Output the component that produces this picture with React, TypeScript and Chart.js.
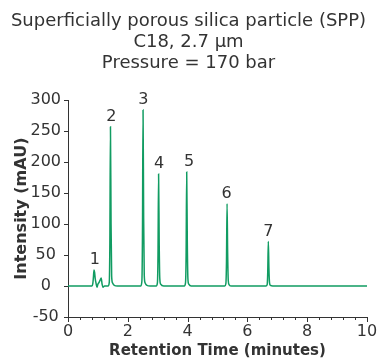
import React, { useEffect, useRef } from "react";
import { Chart, registerables } from "chart.js";

Chart.register(...registerables);

const titleLines = [
  "Superficially porous silica particle (SPP)",
  "C18, 2.7 µm",
  "Pressure = 170 bar",
];

// Chromatogram trace (time in minutes, intensity in mAU)
const timeValues = [
  0, 0.5, 0.8, 0.83, 0.85, 0.87, 0.89, 0.91, 0.94, 0.97, 1.0, 1.04, 1.08, 1.11, 1.14, 1.17, 1.22,
  1.34, 1.38, 1.40, 1.42, 1.44, 1.46, 1.49, 1.55, 1.65,
  2.43, 2.47, 2.49, 2.51, 2.53, 2.55, 2.58, 2.64, 2.75,
  2.95, 2.99, 3.01, 3.03, 3.05, 3.07, 3.1, 3.2,
  3.89, 3.93, 3.95, 3.97, 3.99, 4.01, 4.04, 4.12,
  5.24, 5.28, 5.3, 5.32, 5.34, 5.36, 5.39, 5.47,
  6.62, 6.66, 6.68, 6.7, 6.72, 6.74, 6.77, 6.85,
  10,
];
const intensityValues = [
  0, 0, 0, 4, 14, 26, 22, 12, 4, -2, 3, 6, 10, 13, 3, -2, 0,
  0, 6, 70, 257, 100, 16, 5, 1, 0,
  0, 7, 80, 284, 110, 18, 5, 1, 0,
  0, 5, 50, 181, 70, 12, 3, 0,
  0, 5, 50, 184, 72, 12, 3, 0,
  0, 4, 38, 133, 52, 9, 2, 0,
  0, 2, 22, 72, 28, 5, 1, 0,
  0,
];

const peakLabels = ["1", "2", "3", "4", "5", "6", "7"];
const peakLabelTimes = [0.9, 1.45, 2.52, 3.05, 4.05, 5.3, 6.7];
const peakLabelHeights = [26, 257, 284, 181, 184, 133, 72];

const xTickValues = [
  0, 0.4, 0.8, 1.2, 1.6, 2, 2.4, 2.8, 3.2, 3.6, 4, 4.4, 4.8, 5.2, 5.6, 6, 6.4, 6.8, 7.2, 7.6, 8,
  8.4, 8.8, 9.2, 9.6, 10,
];
const xMajorTicks = [0, 2, 4, 6, 8, 10];
const yTickValues = [-50, 0, 50, 100, 150, 200, 250, 300];

const FONT = "'DejaVu Sans', Verdana, sans-serif";
const TEXT = "#333333";
const LINE = "#119c62";

const decorPlugin = {
  id: "decor",
  afterDraw(chart: any) {
    const ctx = chart.ctx;
    const xs = chart.scales.x;
    const ys = chart.scales.y;
    const area = chart.chartArea;
    ctx.save();
    ctx.strokeStyle = TEXT;
    ctx.lineWidth = 1;
    xTickValues.forEach((v) => {
      const px = Math.round(xs.getPixelForValue(v)) + 0.5;
      const major = xMajorTicks.some((m) => Math.abs(m - v) < 1e-6);
      const len = major ? 5 : 3;
      ctx.beginPath();
      ctx.moveTo(px, area.bottom);
      ctx.lineTo(px, area.bottom + len);
      ctx.stroke();
    });
    yTickValues.forEach((v) => {
      const py = Math.round(ys.getPixelForValue(v)) + 0.5;
      ctx.beginPath();
      ctx.moveTo(area.left, py);
      ctx.lineTo(area.left - 4, py);
      ctx.stroke();
    });
    ctx.fillStyle = TEXT;
    ctx.font = `16px ${FONT}`;
    ctx.textAlign = "center";
    ctx.textBaseline = "bottom";
    peakLabels.forEach((lab, i) => {
      const px = xs.getPixelForValue(peakLabelTimes[i]);
      const py = ys.getPixelForValue(peakLabelHeights[i]);
      ctx.fillText(lab, px, py - 2);
    });
    ctx.restore();
  },
};

export default function App() {
  const ref = useRef<HTMLCanvasElement | null>(null);
  useEffect(() => {
    document.body.style.margin = "0";
    const data = timeValues.map((t, i) => ({ x: t, y: intensityValues[i] }));
    const chart = new Chart(ref.current as HTMLCanvasElement, {
      type: "line",
      data: {
        datasets: [
          {
            data,
            borderColor: LINE,
            borderWidth: 1.5,
            pointRadius: 0,
            tension: 0.3,
            cubicInterpolationMode: "monotone",
            fill: false,
          },
        ],
      },
      options: {
        animation: false,
        responsive: false,
        maintainAspectRatio: false,
        layout: { padding: { left: 0, right: 0, top: 0, bottom: 0 } },
        plugins: {
          legend: { display: false },
          tooltip: { enabled: false },
          title: {
            display: true,
            text: titleLines,
            color: TEXT,
            font: { family: FONT, size: 18, weight: "normal", lineHeight: 1.17 },
            padding: { top: 11, bottom: 26 },
          },
        },
        scales: {
          x: {
            type: "linear",
            min: 0,
            max: 10,
            afterBuildTicks: (scale: any) => {
              scale.ticks = xTickValues.map((v) => ({ value: v }));
            },
            afterFit: (scale: any) => {
              scale.height = 45;
              scale.paddingRight = 10;
              scale.paddingLeft = 0;
            },
            grid: { display: false, drawTicks: false },
            border: { display: true, color: TEXT, width: 1 },
            ticks: {
              color: TEXT,
              font: { family: FONT, size: 16, lineHeight: 1.2 },
              padding: 5,
              maxRotation: 0,
              autoSkip: false,
              callback: (v: any) =>
                xMajorTicks.some((m) => Math.abs(m - Number(v)) < 1e-6)
                  ? String(Math.round(Number(v)))
                  : "",
            },
            title: {
              display: true,
              text: "Retention Time (minutes)",
              color: TEXT,
              font: { family: FONT, size: 15, weight: "bold", lineHeight: 1.2 },
              padding: { top: 0, bottom: 2 },
            },
          },
          y: {
            type: "linear",
            min: -50,
            max: 300,
            afterBuildTicks: (scale: any) => {
              scale.ticks = yTickValues.map((v) => ({ value: v }));
            },
            afterFit: (scale: any) => {
              scale.width = 68;
            },
            grid: { display: false, drawTicks: false },
            border: { display: true, color: TEXT, width: 1 },
            ticks: {
              color: TEXT,
              font: { family: FONT, size: 16 },
              padding: 7,
              crossAlign: "center",
              autoSkip: false,
            },
            title: {
              display: true,
              text: "Intensity (mAU)",
              color: TEXT,
              font: { family: FONT, size: 16, weight: "bold", lineHeight: 1.2 },
              padding: { top: 12, bottom: 0 },
            },
          },
        },
      },
      plugins: [decorPlugin],
    });
    return () => chart.destroy();
  }, []);
  return (
    <div style={{ width: 377, height: 362 }}>
      <canvas ref={ref} width={377} height={362} style={{ display: "block" }} />
    </div>
  );
}
